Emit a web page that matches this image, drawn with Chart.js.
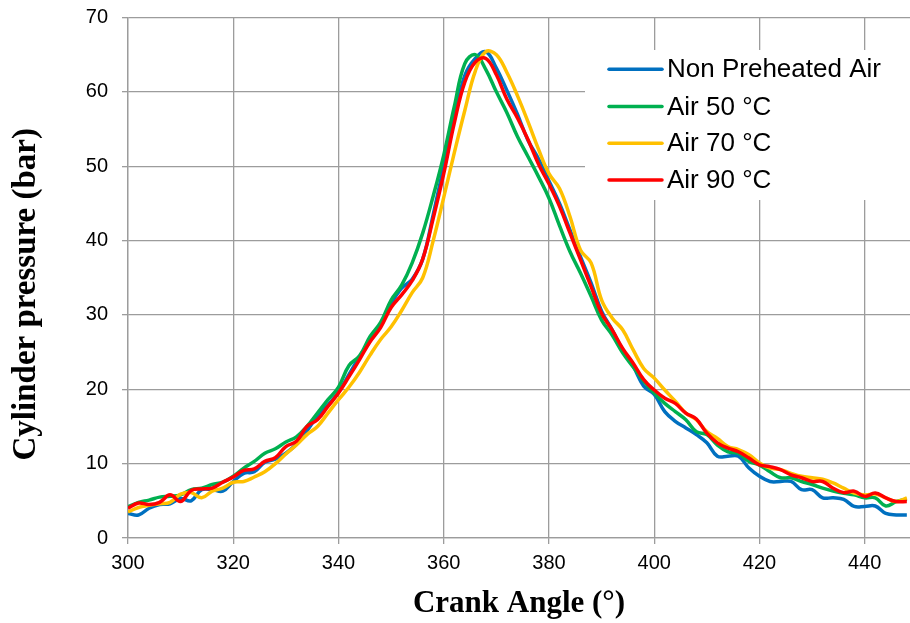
<!DOCTYPE html>
<html>
<head>
<meta charset="utf-8">
<script src="https://cdn.jsdelivr.net/npm/chart.js@4.4.1/dist/chart.umd.min.js"></script>
<style>
  body { margin: 0; background: #fff; }
  #wrap { width: 910px; height: 623px; }
</style>
</head>
<body>
<div id="wrap"><canvas id="grafico" width="910" height="623"></canvas></div>
<script>
// crank angle (deg), every 2 degrees
const angulos = [];
for (let a = 300; a <= 448; a += 2) angulos.push(a);

const nomes = ["Non Preheated Air", "Air 50 °C", "Air 70 °C", "Air 90 °C"];
const cores = ["#0070C0", "#00B050", "#FFC000", "#FF0000"];

const naoPreaquecido = [
  3.3, 3.1, 4.0, 4.5, 4.6, 5.3, 5.0, 6.5, 6.5, 6.3,
  7.6, 8.7, 8.9, 10.2, 10.6, 11.4, 12.6, 14.4, 16.4, 17.9,
  19.6, 22.0, 24.4, 26.5, 28.6, 31.5, 33.6, 34.8, 37.5, 43.5,
  50.0, 56.5, 62.2, 64.5, 65.4, 63.2, 60.2, 57.0, 53.5, 51.0,
  48.0, 45.0, 41.4, 37.8, 34.3, 30.5, 28.0, 25.3, 23.1, 20.4,
  19.3, 17.0, 15.7, 14.8, 13.9, 12.8, 11.0, 11.0, 11.0, 9.4,
  8.3, 7.6, 7.6, 7.6, 6.5, 6.5, 5.4, 5.4, 5.2, 4.25,
  4.25, 4.3, 3.3, 3.1, 3.1
];

const ar50 = [
  4.2, 4.8, 5.1, 5.5, 5.6, 5.8, 6.5, 6.7, 7.2, 7.5,
  8.3, 9.4, 10.3, 11.4, 12.0, 12.9, 13.6, 15.0, 16.8, 18.6,
  20.3, 23.2, 24.5, 27.1, 29.0, 32.0, 34.0, 37.0, 41.0, 46.0,
  51.5, 58.0, 63.8, 65.0, 63.0, 60.0, 57.2, 54.0, 51.3, 48.6,
  45.7, 42.0, 38.5, 35.6, 32.5, 29.3, 27.3, 24.9, 23.0, 21.1,
  19.5, 18.1, 17.0, 15.9, 14.3, 13.9, 12.5, 11.6, 11.4, 10.3,
  9.8, 8.9, 8.1, 8.1, 7.6, 7.2, 6.7, 6.3, 6.0, 5.8,
  5.4, 5.4, 4.3, 4.9, 5.2
];

const ar70 = [
  3.5, 4.1, 4.4, 4.6, 4.8, 5.9, 6.1, 5.4, 6.3, 6.7,
  7.5, 7.6, 8.2, 8.9, 10.0, 11.3, 12.5, 13.9, 15.0, 16.8,
  18.6, 20.3, 22.3, 24.6, 26.7, 28.4, 30.6, 33.0, 35.0, 40.0,
  45.8, 51.8, 57.5, 62.8, 65.4, 65.0, 62.6, 59.5, 56.0, 52.3,
  49.0, 47.0, 43.2, 38.7, 37.0, 32.0, 29.6, 28.0, 25.3, 22.8,
  21.5, 19.9, 18.4, 16.8, 15.9, 14.3, 13.4, 12.3, 11.9, 11.2,
  10.1, 9.4, 9.2, 8.7, 8.3, 8.1, 7.9, 7.4, 6.7, 6.05,
  5.8, 5.9, 5.4, 4.9, 5.4
];

const ar90 = [
  4.0, 4.7, 4.5, 4.8, 5.8, 4.9, 6.4, 6.6, 6.7, 7.5,
  8.2, 9.1, 9.3, 10.3, 10.8, 12.3, 13.0, 15.0, 15.9, 17.7,
  19.5, 21.7, 24.0, 26.4, 28.3, 31.0, 32.7, 34.6, 37.5, 43.0,
  49.0, 55.8, 61.3, 64.0, 64.5, 62.3, 59.0, 56.5, 53.6, 50.3,
  47.6, 44.6, 41.0, 37.4, 33.8, 30.2, 28.0, 25.5, 23.5, 21.3,
  19.9, 18.8, 18.1, 16.8, 16.0, 14.1, 12.8, 12.1, 11.6, 10.75,
  9.85, 9.6, 9.2, 8.5, 8.1, 7.6, 7.6, 6.7, 6.1, 6.3,
  5.6, 6.05, 5.4, 4.9, 4.9
];

const series = [naoPreaquecido, ar50, ar70, ar90];

const corGrade = "#9c9c9c";
const fonteEixo = { family: "'Liberation Sans', Arial, sans-serif", size: 20 };
const fonteTitulo = { family: "'Liberation Serif', 'Times New Roman', serif", weight: "bold" };

// legend drawn inside the plot, with a white box over the grid
const legendaInterna = {
  id: "legendaInterna",
  afterDraw(chart) {
    const ctx = chart.ctx;
    ctx.save();
    ctx.fillStyle = "#fff";
    ctx.fillRect(585, 50, 325, 150);
    const linhas = [69.3, 106.5, 143.3, 180];
    ctx.font = "26px 'Liberation Sans', Arial, sans-serif";
    ctx.textBaseline = "middle";
    ctx.textAlign = "left";
    nomes.forEach((n, i) => {
      ctx.strokeStyle = cores[i];
      ctx.lineWidth = 3.5;
      ctx.lineCap = "round";
      ctx.beginPath();
      ctx.moveTo(609, linhas[i]);
      ctx.lineTo(662, linhas[i]);
      ctx.stroke();
      ctx.fillStyle = "#000";
      ctx.fillText(n, 667, linhas[i] + 1);
    });
    ctx.restore();
  }
};

new Chart(document.getElementById("grafico"), {
  type: "line",
  data: {
    datasets: series.map((s, i) => ({
      label: nomes[i],
      data: s.map((v, j) => ({ x: angulos[j], y: v })),
      borderColor: cores[i],
      backgroundColor: cores[i],
      borderWidth: 3.5,
      pointRadius: 0,
      tension: 0.4,
      fill: false,
      order: 4 - i
    }))
  },
  options: {
    responsive: false,
    animation: false,
    layout: { padding: { top: 17.5, right: 0, left: 0, bottom: 0 } },
    plugins: {
      legend: { display: false },
      tooltip: { enabled: false }
    },
    scales: {
      x: {
        type: "linear",
        min: 300,
        max: 448.6,
        afterFit: (s) => { s.height = 85; },
        ticks: { stepSize: 20, includeBounds: false, color: "#000", font: fonteEixo, padding: 7, maxRotation: 0 },
        grid: { color: corGrade, lineWidth: 1.3, tickLength: 6 },
        border: { color: corGrade, width: 1.3 },
        title: { display: true, text: "Crank Angle (°)", color: "#000", font: { ...fonteTitulo, size: 31 }, padding: { top: 0, bottom: 0 } }
      },
      y: {
        min: 0,
        max: 70,
        afterFit: (s) => { s.width = 128; s.paddingTop = 0; s.paddingBottom = 0; },
        ticks: { stepSize: 10, color: "#000", font: fonteEixo, padding: 14 },
        grid: { color: corGrade, lineWidth: 1.3, tickLength: 6 },
        border: { color: corGrade, width: 1.3 },
        title: { display: true, text: "Cylinder pressure (bar)    ", color: "#000", font: { ...fonteTitulo, size: 33 }, padding: { top: 7, bottom: 0 } }
      }
    }
  },
  plugins: [legendaInterna]
});
</script>
</body>
</html>
